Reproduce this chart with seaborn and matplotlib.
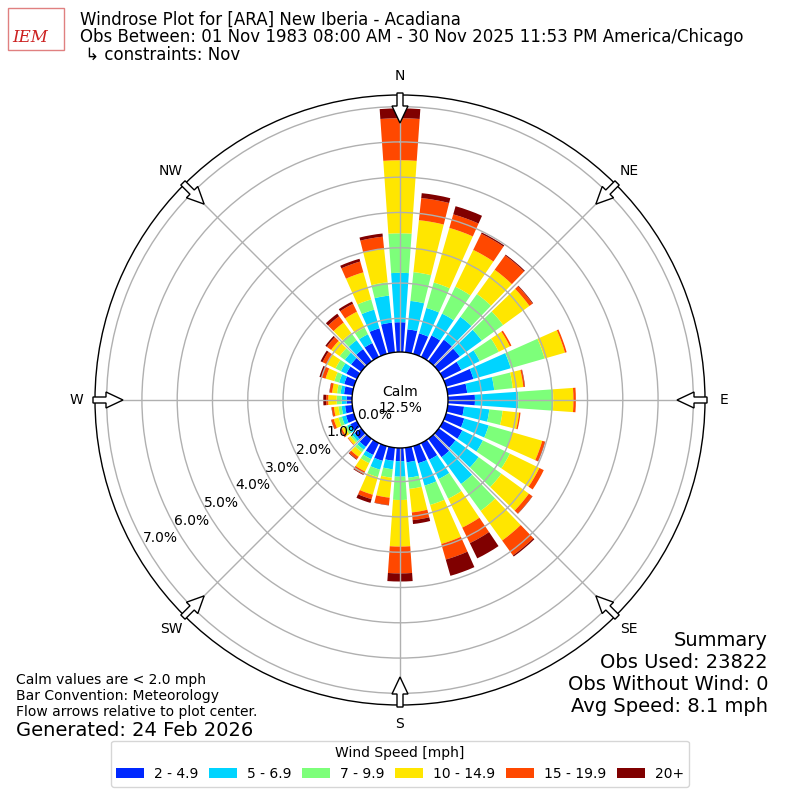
import numpy as np
import matplotlib
matplotlib.use("Agg")
import matplotlib.pyplot as plt
import matplotlib.transforms as mtransforms
from matplotlib.patches import Patch, Circle, FancyArrow, Rectangle
import seaborn as sns

# ---------------- data (percent of observations) ----------------
directions = [0, 10, 20, 30, 40, 50, 60, 70, 80, 90, 100, 110, 120, 130, 140, 150, 160, 170,
              180, 190, 200, 210, 220, 230, 240, 250, 260, 270, 280, 290, 300, 310, 320, 330, 340, 350]

speed_labels = ["2 - 4.9", "5 - 6.9", "7 - 9.9", "10 - 14.9", "15 - 19.9", "20+"]
speed_colors = ["#0028ff", "#00d4ff", "#7dff7a", "#ffe600", "#ff4800", "#800000"]

spd_2_5 = [0.89, 0.70, 0.65, 0.72, 0.80, 0.78, 0.62, 0.85, 0.60, 0.81, 0.51, 0.58, 0.65, 0.63, 0.69, 0.57, 0.55, 0.46,
           0.42, 0.42, 0.48, 0.42, 0.33, 0.28, 0.25, 0.28, 0.25, 0.20, 0.28, 0.33, 0.38, 0.40, 0.47, 0.48, 0.80, 0.89]
spd_5_7 = [1.40, 0.81, 0.75, 0.69, 0.80, 0.77, 0.58, 1.10, 0.77, 1.23, 0.72, 0.72, 0.65, 0.81, 0.94, 0.61, 0.66, 0.44,
           0.44, 0.24, 0.26, 0.13, 0.10, 0.08, 0.10, 0.12, 0.10, 0.14, 0.10, 0.15, 0.17, 0.22, 0.31, 0.28, 0.55, 0.77]
spd_7_10 = [1.12, 0.82, 0.75, 0.85, 0.80, 0.75, 0.60, 1.00, 0.53, 0.99, 0.38, 0.70, 0.85, 0.80, 0.94, 0.62, 0.57, 0.32,
            0.66, 0.24, 0.22, 0.13, 0.09, 0.06, 0.07, 0.10, 0.09, 0.14, 0.10, 0.14, 0.17, 0.18, 0.25, 0.21, 0.30, 0.38]
spd_10_15 = [2.07, 1.48, 1.61, 1.16, 0.85, 0.92, 0.35, 0.60, 0.30, 0.57, 0.47, 0.88, 0.93, 0.96, 1.04, 0.91, 1.15, 0.67,
             1.32, 0.57, 0.52, 0.26, 0.16, 0.08, 0.10, 0.14, 0.13, 0.24, 0.14, 0.26, 0.28, 0.30, 0.37, 0.50, 0.80, 0.96]
spd_15_20 = [1.19, 0.63, 0.40, 0.51, 0.50, 0.11, 0.05, 0.05, 0.04, 0.07, 0.04, 0.08, 0.14, 0.12, 0.52, 0.49, 0.46, 0.22,
             0.76, 0.21, 0.13, 0.09, 0.08, 0.02, 0.05, 0.07, 0.06, 0.06, 0.07, 0.12, 0.13, 0.15, 0.22, 0.25, 0.32, 0.34]
spd_20p = [0.28, 0.14, 0.24, 0.04, 0.03, 0.02, 0.00, 0.00, 0.01, 0.00, 0.00, 0.01, 0.00, 0.01, 0.04, 0.48, 0.48, 0.11,
           0.23, 0.01, 0.11, 0.02, 0.02, 0.00, 0.01, 0.01, 0.01, 0.08, 0.01, 0.06, 0.06, 0.05, 0.09, 0.07, 0.08, 0.09]

calm_pct = 12.5
rticks = [0, 1, 2, 3, 4, 5, 6, 7]
compass_labels = ["N", "NE", "E", "SE", "S", "SW", "W", "NW"]
compass_angles = [0, 45, 90, 135, 180, 225, 270, 315]

title_lines = ["Windrose Plot for [ARA] New Iberia - Acadiana",
               "Obs Between: 01 Nov 1983 08:00 AM - 30 Nov 2025 11:53 PM America/Chicago",
               " \u21b3 constraints: Nov"]
left_notes = ["Calm values are < 2.0 mph", "Bar Convention: Meteorology",
              "Flow arrows relative to plot center."]
generated = "Generated: 24 Feb 2026"
summary_lines = ["Summary", "Obs Used: 23822", "Obs Without Wind: 0", "Avg Speed: 8.1 mph"]

# ---------------- style ----------------
sns.set_theme(style="white", rc={"text.color": "black", "axes.labelcolor": "black",
                                 "xtick.color": "black", "ytick.color": "black"})
plt.rcParams["font.family"] = ["DejaVu Sans"]
palette = sns.color_palette(speed_colors)

W = H = 800
fig = plt.figure(figsize=(8, 8), dpi=100)
R_PX = 305.0
ax = fig.add_axes([(400 - R_PX) / W, (400 - R_PX) / H, 2 * R_PX / W, 2 * R_PX / H], projection="polar")
ax.set_theta_zero_location("N")
ax.set_theta_direction(-1)
ax.set_rorigin(-1.314)
ax.set_ylim(0, 7.33)

theta = np.radians(directions)
layers = [spd_2_5, spd_5_7, spd_7_10, spd_10_15, spd_15_20, spd_20p]
bottom = np.zeros(len(directions))
for vals, col in zip(layers, palette):
    vals = np.asarray(vals)
    ax.bar(theta, vals, width=np.radians(8), bottom=bottom, color=col, linewidth=0, zorder=1)
    bottom = bottom + vals

ax.set_axisbelow(False)
ax.grid(True, color="#b0b0b0", linewidth=1.0)
ax.set_xticks(np.radians(compass_angles))
ax.set_xticklabels([])
ax.set_yticks(rticks)
ax.set_yticklabels([])
ax.tick_params(length=0)
ax.spines["polar"].set_color("black")
ax.spines["polar"].set_linewidth(1.0)

# compass labels
for lab, ang in zip(compass_labels, compass_angles):
    ax.text(np.radians(ang), 7.86, lab, ha="center", va="center", fontsize=10, color="black",
            clip_on=False)

# calm circle
calm = Circle((0.5, 0.5), 48.0 / (2 * R_PX), transform=ax.transAxes, facecolor="white",
              edgecolor="black", linewidth=1.0, zorder=5, clip_on=False)
ax.add_artist(calm)
ax.text(0.5, 0.5, f"Calm\n{calm_pct:.1f}%", transform=ax.transAxes, ha="center", va="center",
        fontsize=10, color="black", zorder=6)

# radial labels
off = mtransforms.offset_copy(ax.transData, fig=fig, x=14.7, y=8.5, units="dots")
for v in rticks:
    ax.text(np.radians(240), v, f"{v:.1f}%", transform=off, ha="center", va="center", fontsize=10,
            color="black", zorder=7, clip_on=False)

# flow arrows
fig.canvas.draw()
cx, cy = ax.transAxes.transform((0.5, 0.5))
for ang in compass_angles:
    a = np.radians(ang)
    ux, uy = np.sin(a), np.cos(a)
    r0 = 307.0
    arr = FancyArrow(cx + r0 * ux, cy + r0 * uy, -30 * ux, -30 * uy, width=6, head_width=16,
                     head_length=17, length_includes_head=True, facecolor="white", edgecolor="black",
                     linewidth=1.0, transform=mtransforms.IdentityTransform(), zorder=8)
    fig.add_artist(arr)

# title
for i, line in enumerate(title_lines):
    fig.text(80 / W, 1 - (20 + 17.5 * i) / H, line, ha="left", va="center", fontsize=12, color="black")

# logo (approximation)
fig.add_artist(Rectangle((8 / W, 1 - 50 / H), 56 / W, 42 / H, transform=fig.transFigure,
                         facecolor="none", edgecolor="#e08080", linewidth=1.0))
fig.text(30 / W, 1 - 38 / H, "IEM", ha="center", va="center", fontsize=12, color="#cc2020",
         family="DejaVu Serif", style="italic")

# notes
for i, line in enumerate(left_notes):
    fig.text(16 / W, 1 - (680 + 16 * i) / H, line, ha="left", va="center", fontsize=10, color="black")
fig.text(16 / W, 1 - 730 / H, generated, ha="left", va="center", fontsize=14, color="black")
for i, line in enumerate(summary_lines):
    fig.text(768 / W, 1 - (640 + 22 * i) / H, line, ha="right", va="center", fontsize=14, color="black")

# legend
handles = [Patch(facecolor=c, edgecolor="none", label=l) for c, l in zip(palette, speed_labels)]
leg = fig.legend(handles=handles, loc="lower center", bbox_to_anchor=(0.5, 0.008), ncol=6,
                 title="Wind Speed [mph]", fontsize=10, title_fontsize=10, frameon=True,
                 handlelength=2.0, columnspacing=0.8, handletextpad=0.7, borderpad=0.4)
for t in leg.get_texts():
    t.set_color("black")
leg.get_title().set_color("black")

fig.savefig("out.png", dpi=100)
